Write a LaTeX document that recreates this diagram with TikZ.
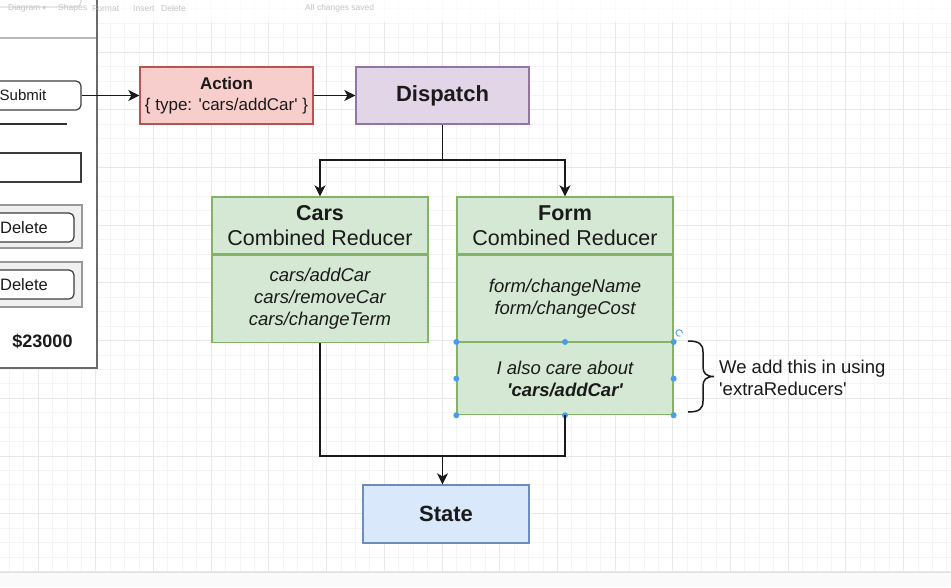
\documentclass[tikz,border=0pt]{standalone}
\usepackage{fontspec}
\setmainfont{Liberation Sans}
\newfontfamily\symfont{DejaVu Sans}
\usetikzlibrary{arrows.meta}
\definecolor{redfill}{HTML}{F8CECC}\definecolor{redline}{HTML}{B85450}
\definecolor{purfill}{HTML}{E1D5E7}\definecolor{purline}{HTML}{9673A6}
\definecolor{grnfill}{HTML}{D5E8D4}\definecolor{grnline}{HTML}{82B366}
\definecolor{blufill}{HTML}{DAE8FC}\definecolor{bluline}{HTML}{6C8EBF}
\definecolor{ink}{HTML}{1A1A1A}
\definecolor{gridminor}{HTML}{F4F4F4}
\definecolor{gridmajor}{HTML}{E8E8E8}
\definecolor{handlecol}{HTML}{4A9BE8}
\definecolor{tooltext}{HTML}{C4C4C4}
\newcommand\myq{\textquotesingle}
\begin{document}
\begin{tikzpicture}[x=1pt,y=-1pt,
  box/.style={draw, line width=1.3pt, inner sep=0pt, align=center, text=ink},
  conn/.style={draw=ink, line width=1.8pt},
  arr/.style={conn, -{Stealth[length=11pt,width=11pt,inset=3pt]}},
  btn/.style={draw=ink!85, line width=1.2pt, rounded corners=5pt, fill=white, inner sep=0pt, text=ink},
  handle/.style={fill=handlecol, draw=none},
  tool/.style={anchor=west, text=tooltext, inner sep=0pt, font=\fontsize{8.5}{9}\selectfont},
  head/.style={font=\fontsize{21.5}{25}\selectfont},
  items/.style={font=\fontsize{18.5}{22}\selectfont\itshape},
  big/.style={font=\fontsize{22}{26}\selectfont\bfseries}]
\useasboundingbox (0,0) rectangle (951,587);
\clip (0,0) rectangle (951,587);
\fill[white] (0,0) rectangle (951,587);
% grid
\foreach \i in {-3,...,63} {\pgfmathsetmacro\gx{38+14.425*\i}
  \draw[gridminor,line width=0.7pt] (\gx,0) -- (\gx,587);}
\foreach \i in {-4,...,38} {\pgfmathsetmacro\gy{52+14.425*\i}
  \draw[gridminor,line width=0.7pt] (0,\gy) -- (951,\gy);}
\foreach \i in {-1,...,16} {\pgfmathsetmacro\gx{38+57.7*\i}
  \draw[gridmajor,line width=0.8pt] (\gx,0) -- (\gx,587);}
\foreach \i in {-1,...,10} {\pgfmathsetmacro\gy{52+57.7*\i}
  \draw[gridmajor,line width=0.8pt] (0,\gy) -- (951,\gy);}
% left panel
\fill[white] (0,0) rectangle (97,368);
\draw[ink!80, line width=1.2pt, rounded corners=5pt] (0,7) -| (81,-12);
\fill[white, opacity=0.8] (0,0) rectangle (951,22);
\draw[black!28, line width=1.3pt] (0,38) -- (96,38);
\draw[ink!65, line width=1.3pt] (97,0) -- (97,368) -- (0,368);
\node[btn, minimum width=116pt, minimum height=29pt, font=\fontsize{15}{18}\selectfont] (submit) at (23,95.5) {Submit};
\draw[ink!90, line width=1.2pt] (0,124) -- (67,124);
\draw[ink!85, line width=1.2pt] (-5,153) rectangle (81,182);
\fill[black!6] (-5,205) rectangle (82,248);
\draw[black!40, line width=1.2pt] (-5,205) rectangle (82,248);
\node[btn, minimum width=100pt, minimum height=29pt, font=\fontsize{16.5}{19}\selectfont] (del1) at (24,227.5) {Delete};
\fill[black!6] (-5,262) rectangle (82,307);
\draw[black!40, line width=1.2pt] (-5,262) rectangle (82,307);
\node[btn, minimum width=100pt, minimum height=29pt, font=\fontsize{16.5}{19}\selectfont] (del2) at (24,284.5) {Delete};
\node[text=ink, inner sep=0pt, font=\fontsize{18}{21}\selectfont\bfseries] (price) at (42.5,341) {\$23000};
% toolbar
\node[tool] (t1) at (8,8.5) {Diagram \symfont\fontsize{7}{8}\selectfont▾};
\node[tool] (t2) at (58,8.5) {Shapes};
\node[tool] (t3) at (92,8.5) {Format};
\node[tool] (t4) at (133,8.5) {Insert};
\node[tool] (t5) at (161,8.5) {Delete};
\node[tool] (t6) at (305,8.5) {All changes saved};
% main boxes
\node[box, fill=redfill, draw=redline, minimum width=173pt, minimum height=57pt, font=\fontsize{17}{21}\selectfont] (action) at (226.5,95.5)
  {\textbf{Action}\\ \{ type: \myq cars/addCar\myq\ \}};
\node[box, fill=purfill, draw=purline, minimum width=173pt, minimum height=57pt, big] (dispatch) at (442.5,95.5) {Dispatch};
\node[box, fill=grnfill, draw=grnline, minimum width=216pt, minimum height=57pt, head] (carsh) at (320,225.5)
  {\textbf{Cars}\\ Combined Reducer};
\node[box, fill=grnfill, draw=grnline, minimum width=216pt, minimum height=87pt, anchor=north, items] (carsb) at (carsh.south)
  {cars/addCar\\ cars/removeCar\\ cars/changeTerm};
\node[box, fill=grnfill, draw=grnline, minimum width=216pt, minimum height=57pt, head] (formh) at (565,225.5)
  {\textbf{Form}\\ Combined Reducer};
\node[box, fill=grnfill, draw=grnline, minimum width=216pt, minimum height=86pt, anchor=north, items] (formb) at (formh.south)
  {form/changeName\\ form/changeCost};
\node[box, fill=grnfill, draw=grnline, minimum width=216pt, minimum height=72pt, anchor=north, items] (forme) at (formb.south)
  {I also care about\\ \textbf{\myq cars/addCar\myq}};
\node[box, fill=blufill, draw=bluline, minimum width=166pt, minimum height=58pt, big] (state) at (446,514) {State};
% selection handles
\foreach \p in {north west, north, north east, west, east, south west, south, south east}
  \fill[handle] (forme.\p) circle (3pt);
\draw[handlecol, line width=0.9pt] (682.5,333) arc[start angle=0, end angle=290, radius=3.3pt];
% connectors
\draw[arr] (submit.east) -- (action.west);
\draw[arr] (action.east) -- (dispatch.west);
\coordinate (split) at (442.5,160);
\draw[conn] (dispatch.south) -- (split);
\draw[arr] (split) -| (carsh.north);
\draw[arr] (split) -| (formh.north);
\coordinate (merge) at (442.5,456);
\draw[conn] (carsb.south) |- (merge);
\draw[conn] (forme.south) |- (merge);
\draw[arr] (merge) -- (merge |- state.north);
% brace and note
\draw[ink, line width=1.5pt] (688,341) .. controls (699,341) and (703,344) .. (703,352) -- (703,367)
  .. controls (703,373) and (706,376.5) .. (714,376.5)
  .. controls (706,376.5) and (703,380) .. (703,386) -- (703,401)
  .. controls (703,409) and (699,412) .. (688,412);
\node[anchor=west, align=left, inner sep=0pt, text=ink, font=\fontsize{18.5}{22}\selectfont] (note) at (719,378)
  {We add this in using\\ \myq extraReducers\myq};
% bottom tab bar
\fill[black!2] (0,572) rectangle (951,587);
\draw[black!12, line width=0.8pt] (0,572) -- (951,572);
\end{tikzpicture}
\end{document}
